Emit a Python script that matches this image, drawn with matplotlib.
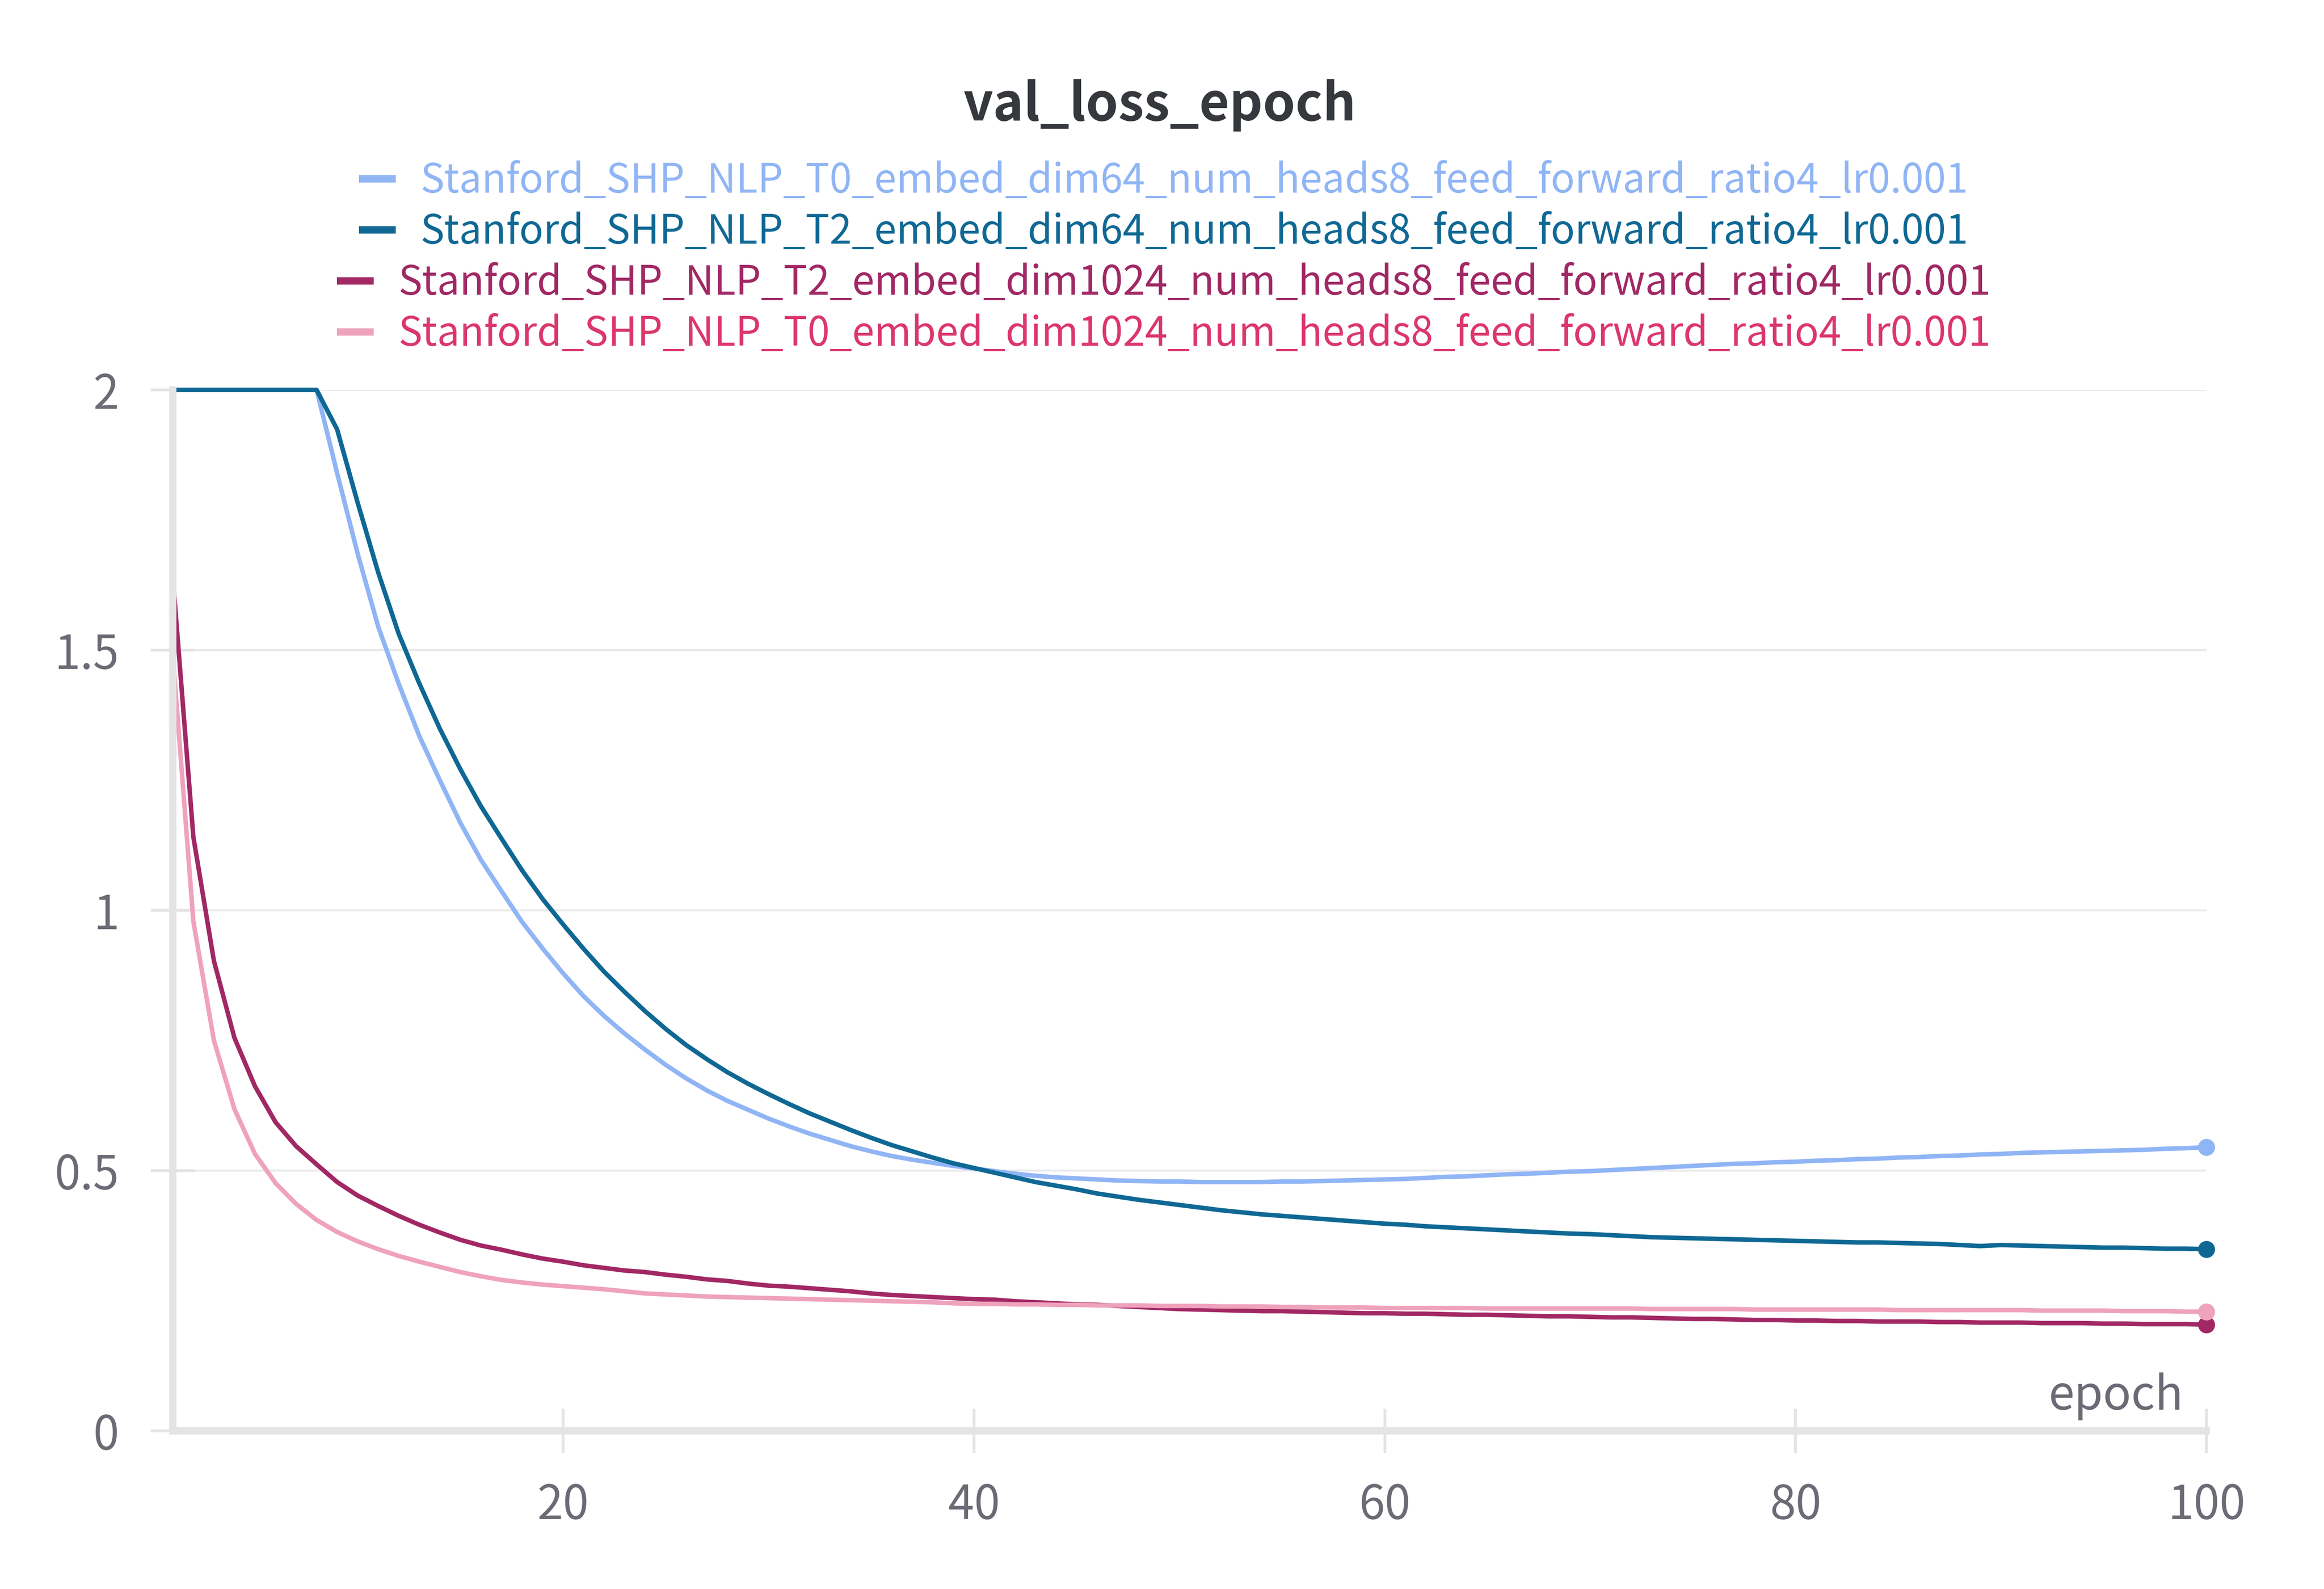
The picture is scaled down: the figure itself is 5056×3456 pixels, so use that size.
import matplotlib
matplotlib.use("Agg")
import matplotlib.pyplot as plt
from matplotlib.lines import Line2D

# ---------------- data ----------------
epochs = list(range(1, 101))

t0_dim64 = [2.0, 2.0, 2.0, 2.0, 2.0, 2.0, 2.0, 2.0,
            1.84, 1.685, 1.545, 1.435, 1.335, 1.25, 1.168, 1.097, 1.037, 0.978, 0.927, 0.879,
            0.835, 0.797, 0.763, 0.732, 0.703, 0.677, 0.654, 0.634, 0.617, 0.600,
            0.585, 0.571, 0.559, 0.547, 0.537, 0.528, 0.521, 0.515, 0.509, 0.504,
            0.499, 0.494, 0.490, 0.487, 0.485, 0.483, 0.481, 0.480, 0.479, 0.479,
            0.478, 0.478, 0.478, 0.478, 0.479, 0.479, 0.480, 0.481, 0.482, 0.483,
            0.484, 0.486, 0.488, 0.489, 0.491, 0.493, 0.494, 0.496, 0.498, 0.499,
            0.501, 0.503, 0.505, 0.507, 0.509, 0.511, 0.513, 0.514, 0.516, 0.517,
            0.519, 0.520, 0.522, 0.523, 0.525, 0.526, 0.528, 0.529, 0.531, 0.532,
            0.534, 0.535, 0.536, 0.537, 0.538, 0.539, 0.540, 0.542, 0.543, 0.545]

t2_dim64 = [2.0, 2.0, 2.0, 2.0, 2.0, 2.0, 2.0, 2.0,
            1.924, 1.783, 1.649, 1.531, 1.436, 1.349, 1.271, 1.200, 1.138, 1.077, 1.022, 0.973,
            0.926, 0.882, 0.843, 0.806, 0.772, 0.741, 0.714, 0.689, 0.667, 0.647,
            0.628, 0.610, 0.594, 0.578, 0.563, 0.549, 0.537, 0.525, 0.514, 0.505,
            0.496, 0.487, 0.478, 0.471, 0.464, 0.456, 0.450, 0.444, 0.439, 0.434,
            0.429, 0.424, 0.420, 0.416, 0.413, 0.410, 0.407, 0.404, 0.401, 0.398,
            0.396, 0.393, 0.391, 0.389, 0.387, 0.385, 0.383, 0.381, 0.379, 0.378,
            0.376, 0.374, 0.372, 0.371, 0.370, 0.369, 0.368, 0.367, 0.366, 0.365,
            0.364, 0.363, 0.362, 0.362, 0.361, 0.360, 0.359, 0.357, 0.355, 0.357,
            0.356, 0.355, 0.354, 0.353, 0.352, 0.352, 0.351, 0.350, 0.350, 0.349]

t2_dim1024 = [1.64, 1.141, 0.903, 0.755, 0.662, 0.593, 0.547, 0.512, 0.478, 0.452,
              0.432, 0.413, 0.396, 0.381, 0.367, 0.356, 0.348, 0.339, 0.331, 0.325,
              0.318, 0.313, 0.308, 0.305, 0.300, 0.296, 0.291, 0.288, 0.283, 0.279,
              0.277, 0.274, 0.271, 0.268, 0.264, 0.261, 0.259, 0.257, 0.255, 0.253,
              0.252, 0.249, 0.247, 0.245, 0.243, 0.242, 0.240, 0.238, 0.236, 0.234,
              0.233, 0.232, 0.231, 0.230, 0.230, 0.229, 0.228, 0.227, 0.226, 0.226,
              0.225, 0.225, 0.224, 0.223, 0.223, 0.222, 0.221, 0.220, 0.220, 0.219,
              0.218, 0.218, 0.217, 0.216, 0.215, 0.215, 0.214, 0.213, 0.213, 0.212,
              0.212, 0.211, 0.211, 0.210, 0.210, 0.210, 0.209, 0.209, 0.208, 0.208,
              0.208, 0.207, 0.207, 0.207, 0.206, 0.206, 0.205, 0.205, 0.205, 0.204]

t0_dim1024 = [1.49, 0.979, 0.750, 0.618, 0.532, 0.476, 0.436, 0.405, 0.382, 0.364,
              0.349, 0.336, 0.325, 0.315, 0.305, 0.297, 0.290, 0.285, 0.281, 0.278,
              0.275, 0.272, 0.268, 0.264, 0.262, 0.260, 0.258, 0.257, 0.256, 0.255,
              0.254, 0.253, 0.252, 0.251, 0.250, 0.249, 0.248, 0.247, 0.245, 0.244,
              0.244, 0.243, 0.243, 0.242, 0.242, 0.241, 0.241, 0.241, 0.240, 0.240,
              0.240, 0.239, 0.239, 0.239, 0.238, 0.238, 0.237, 0.237, 0.237, 0.236,
              0.236, 0.236, 0.236, 0.236, 0.235, 0.235, 0.235, 0.235, 0.235, 0.235,
              0.235, 0.235, 0.234, 0.234, 0.234, 0.234, 0.234, 0.233, 0.233, 0.233,
              0.233, 0.233, 0.233, 0.233, 0.232, 0.232, 0.232, 0.232, 0.232, 0.232,
              0.232, 0.231, 0.231, 0.231, 0.231, 0.230, 0.230, 0.230, 0.229, 0.229]

series_labels = [
    "Stanford_SHP_NLP_T0_embed_dim64_num_heads8_feed_forward_ratio4_lr0.001",
    "Stanford_SHP_NLP_T2_embed_dim64_num_heads8_feed_forward_ratio4_lr0.001",
    "Stanford_SHP_NLP_T2_embed_dim1024_num_heads8_feed_forward_ratio4_lr0.001",
    "Stanford_SHP_NLP_T0_embed_dim1024_num_heads8_feed_forward_ratio4_lr0.001",
]
series_values = [t0_dim64, t2_dim64, t2_dim1024, t0_dim1024]

x_ticks = [20, 40, 60, 80, 100]
x_tick_labels = ["20", "40", "60", "80", "100"]
y_ticks = [0, 0.5, 1, 1.5, 2]
y_tick_labels = ["0", "0.5", "1", "1.5", "2"]

title = "val_loss_epoch"
x_label = "epoch"

# ---------------- style ----------------
line_colors = ["#90b5f5", "#0f6894", "#a12864", "#efa2bb"]
text_colors = ["#90b5f5", "#0f6894", "#a12864", "#dc366b"]
AXIS_GRAY = "#e4e4e7"
GRID_GRAY = "#e9e9eb"
TICK_TEXT = "#6b6b76"

plt.rcParams["font.family"] = ["Noto Sans CJK SC", "Lato", "DejaVu Sans"]

W, H, DPI = 5056, 3456, 320
fig = plt.figure(figsize=(W / DPI, H / DPI), dpi=DPI)
fig.patch.set_facecolor("white")
renderer = fig.canvas.get_renderer()


def fit_size(text, target_px, base=20, **kw):
    p = fig.text(0, 0, text, fontsize=base, **kw)
    w = p.get_window_extent(renderer).width
    p.remove()
    return base * target_px / w


ax_left, ax_right, ax_bottom, ax_top = 376, 4800, 3112, 848
ax = fig.add_axes([ax_left / W, 1 - ax_bottom / H,
                   (ax_right - ax_left) / W, (ax_bottom - ax_top) / H])
ax.set_xlim(1, 100)
ax.set_ylim(0, 2)

for vals, c in zip(series_values, line_colors):
    ax.plot(epochs, vals, color=c, lw=2.2, solid_joinstyle="round",
            solid_capstyle="butt", clip_on=False, zorder=2)
    ax.plot([epochs[-1]], [vals[-1]], "o", ms=8.3, color=c,
            markeredgewidth=0, clip_on=False, zorder=3)

for s in ["top", "right"]:
    ax.spines[s].set_visible(False)
for s in ["left", "bottom"]:
    ax.spines[s].set_color(AXIS_GRAY)
    ax.spines[s].set_linewidth(3.5)
    ax.spines[s].set_zorder(2.6)

tick_fs = 22.8
ax.set_yticks(y_ticks)
ax.set_yticklabels(y_tick_labels)
ax.set_xticks(x_ticks)
ax.set_xticklabels(x_tick_labels)
ax.tick_params(axis="both", direction="inout", length=21.6, width=1.4,
               color=AXIS_GRAY, labelcolor=TICK_TEXT, labelsize=tick_fs)
ax.tick_params(axis="y", pad=15.5)
ax.tick_params(axis="x", pad=14)

ax.yaxis.grid(True, color=GRID_GRAY, lw=1.0)
ax.xaxis.grid(False)
ax.set_axisbelow(True)

fig.text(4750 / W, 1 - 3066 / H, x_label, ha="right", va="baseline",
         fontsize=tick_fs, color=TICK_TEXT)

title_fs = fit_size(title, 855, fontweight="bold")
fig.text(2523 / W, 1 - 262 / H, title, ha="center", va="baseline",
         fontsize=title_fs, fontweight="bold", color="#35383c")

# ---------------- legend (centered rows) ----------------
leg_fs = fit_size(series_labels[0], 3370)

baselines = [419, 530, 641, 752]
center_x = 2599
for lab, tc, lc, by in zip(series_labels, text_colors, line_colors, baselines):
    t = fig.text(center_x / W, 1 - by / H, lab, ha="center", va="baseline",
                 fontsize=leg_fs, color=tc)
    ext = t.get_window_extent(renderer)
    x1 = ext.x0 - 54
    x0 = x1 - 80
    yl = by - 30
    fig.add_artist(Line2D([x0 / W, x1 / W], [1 - yl / H, 1 - yl / H],
                          transform=fig.transFigure, color=lc, lw=3.6,
                          solid_capstyle="butt"))

fig.savefig("out.png", dpi=DPI, facecolor="white")
